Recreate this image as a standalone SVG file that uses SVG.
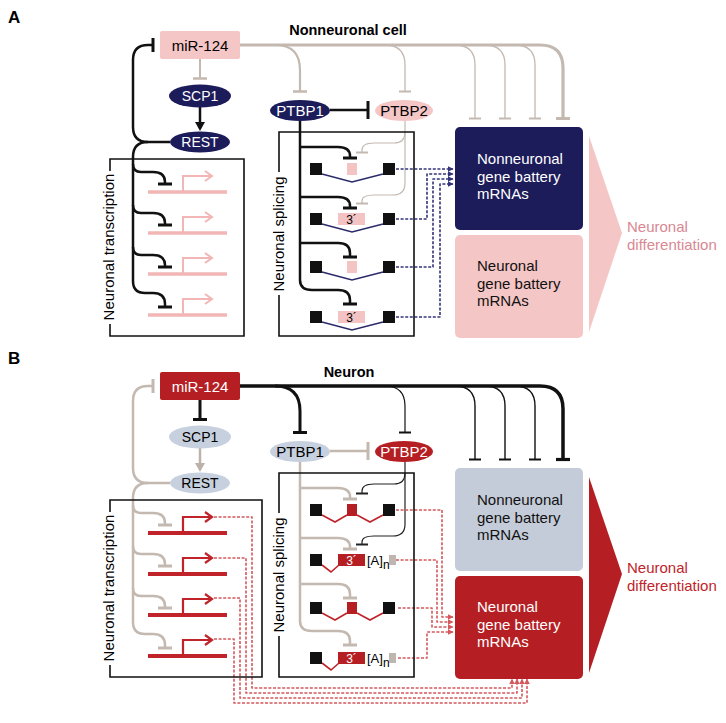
<svg xmlns="http://www.w3.org/2000/svg" width="726" height="723" viewBox="0 0 726 723">
<defs>
<style>
text{font-family:"Liberation Sans",Arial,Helvetica,sans-serif;}
.f15{font-size:15px}
.f14{font-size:14px}
.mid{text-anchor:middle}
.bold{font-weight:bold}
.ln{fill:none;stroke-linejoin:round}
.box{fill:none;stroke:#111;stroke-width:1.6}
.dashN{fill:none;stroke:#34347a;stroke-width:1.6;stroke-dasharray:3 1.6}
.dashR{fill:none;stroke:#d4585c;stroke-width:1.6;stroke-dasharray:3 1.6}
.exon{fill:#111}
</style>
<marker id="ahN" viewBox="0 0 10 10" refX="9" refY="5" markerWidth="6" markerHeight="6" markerUnits="userSpaceOnUse" orient="auto"><path d="M0,0 L10,5 L0,10 z" fill="#34347a"/></marker>
<marker id="ahR" viewBox="0 0 10 10" refX="9" refY="5" markerWidth="6" markerHeight="6" markerUnits="userSpaceOnUse" orient="auto"><path d="M0,0 L10,5 L0,10 z" fill="#d4585c"/></marker>
</defs>
<rect x="0" y="0" width="726" height="723" fill="#fff"/>

<!-- ================= PANEL A ================= -->
<g id="panelA">
<text x="8" y="23" class="bold" font-size="17">A</text>
<text x="348" y="35" class="bold mid" font-size="14.5">Nonneuronal cell</text>

<g id="connectorsA" class="ln">
  <!-- miR-124 repression (gray) -->
  <path d="M240,45 H540 Q563,45 563,68 V118" stroke="#c4b9b0" stroke-width="3.2"/>
  <path d="M556,118.5 H570" stroke="#c4b9b0" stroke-width="3"/>
  <path d="M275,45 Q300,45 300,70 V91" stroke="#c4b9b0" stroke-width="2.2"/>
  <path d="M293,91.5 H307" stroke="#c4b9b0" stroke-width="2.5"/>
  <path d="M385,45 Q405,45 405,65 V91" stroke="#c4b9b0" stroke-width="1.3"/>
  <path d="M399,91.5 H411" stroke="#c4b9b0" stroke-width="2"/>
  <path d="M455,45 Q475,45 475,65 V118 M485,45 Q505,45 505,65 V118 M515,45 Q535,45 535,65 V118" stroke="#c4b9b0" stroke-width="1.3"/>
  <path d="M469,118.5 H481 M499,118.5 H511 M529,118.5 H541" stroke="#c4b9b0" stroke-width="2"/>
  <!-- miR-124 -| SCP1 -->
  <path d="M200,59 V78" stroke="#c4b9b0" stroke-width="2"/>
  <path d="M193,78.5 H207" stroke="#c4b9b0" stroke-width="2.5"/>
  <!-- SCP1 -> REST -->
  <path d="M200,107 V124" stroke="#111" stroke-width="2.5"/>
  <path d="M195,122 L200,131 L205,122 z" fill="#111"/>
  <!-- REST -| miR-124 -->
  <path d="M170,142 H148 Q133,142 133,127 V60 Q133,45 148,45 H153" stroke="#111" stroke-width="2.5"/>
  <path d="M153,38 V52" stroke="#111" stroke-width="3"/>
  <!-- REST -| neuronal genes -->
  <path d="M148,142 Q133,142 133,157 V281 Q133,293 145,293 H153 Q165,293 165,304 V307" stroke="#111" stroke-width="2.5"/>
  <path d="M133,164 Q133,172 141,172 H153 Q165,172 165,182 V184 M133,205 Q133,213 141,213 H153 Q165,213 165,223 V225 M133,247 Q133,255 141,255 H153 Q165,255 165,265 V267" stroke="#111" stroke-width="2.5"/>
  <path d="M158,184 H172 M158,225 H172 M158,267 H172 M158,307 H172" stroke="#111" stroke-width="3"/>
  <!-- PTBP1 -| PTBP2 -->
  <path d="M330,110 H368" stroke="#111" stroke-width="2.5"/>
  <path d="M368,101 V119" stroke="#111" stroke-width="3"/>
  <!-- PTBP1 -| exons -->
  <path d="M300,121 V280 Q300,290 312,290 H338 Q350,290 350,300 V304" stroke="#111" stroke-width="2.5"/>
  <path d="M300,147 H338 Q350,147 350,156 V158 M300,197 H338 Q350,197 350,206 V208 M300,243 H338 Q350,243 350,253 V257" stroke="#111" stroke-width="2.5"/>
  <path d="M343,158 H357 M343,208 H357 M343,257 H357 M343,304 H357" stroke="#111" stroke-width="3"/>
  <!-- PTBP2 -| exons -->
  <path d="M405,121 V183 Q405,195 393,195 H374 Q362,195 362,201 V203" stroke="#c4b9b0" stroke-width="1.2"/>
  <path d="M405,132 Q405,143 394,143 H374 Q362,143 362,150 V152" stroke="#c4b9b0" stroke-width="1.2"/>
  <path d="M356,152.5 H368 M356,203.5 H368" stroke="#c4b9b0" stroke-width="2"/>
  <!-- splice products -> mRNAs -->
  <path class="dashN" marker-end="url(#ahN)" d="M396,169 H453"/>
  <path class="dashN" marker-end="url(#ahN)" d="M396,219 H427 V174 H453"/>
  <path class="dashN" marker-end="url(#ahN)" d="M396,267 H433 V179 H453"/>
  <path class="dashN" marker-end="url(#ahN)" d="M396,317 H440 V184 H453"/>
</g>

<g id="transcriptionA">
  <path class="box" d="M110,171 V159 H244 V336 H110 V324"/>
  <text class="f15 mid" transform="translate(114,247) rotate(-90)">Neuronal transcription</text>
  <g stroke="#f2b6b6" fill="none">
    <path d="M148,192 H227 M148,233 H227 M148,274 H227 M148,315 H227" stroke-width="3.5"/>
    <path d="M183,192 V176 H211 M183,233 V217 H211 M183,274 V258 H211 M183,315 V299 H211" stroke-width="2"/>
    <path d="M205,171 L212,176 L205,181 M205,212 L212,217 L205,222 M205,253 L212,258 L205,263 M205,294 L212,299 L205,304" stroke-width="2"/>
  </g>
</g>

<g id="splicingA">
  <path class="box" d="M279,172 V132 H414 V336 H279 V295"/>
  <text class="f15 mid" transform="translate(284,234) rotate(-90)">Neuronal splicing</text>
  <g fill="none" stroke="#2a2a6a" stroke-width="1.5">
    <path d="M322,174 L352,182 L383,174 M322,224 L352,232 L383,224 M322,272 L352,280 L383,272 M322,322 L352,330 L383,322"/>
  </g>
  <rect class="exon" x="310" y="163" width="12" height="12"/><rect class="exon" x="383" y="163" width="12" height="12"/>
  <rect x="347" y="163" width="10" height="12" fill="#f4c4c4"/>
  <rect class="exon" x="310" y="213" width="12" height="12"/><rect class="exon" x="383" y="213" width="12" height="12"/>
  <rect x="338" y="213" width="27" height="12" fill="#f4c4c4"/>
  <text x="351.5" y="223.5" class="mid" font-size="12">3´</text>
  <rect class="exon" x="310" y="261" width="12" height="12"/><rect class="exon" x="383" y="261" width="12" height="12"/>
  <rect x="347" y="261" width="10" height="12" fill="#f4c4c4"/>
  <rect class="exon" x="310" y="311" width="12" height="12"/><rect class="exon" x="383" y="311" width="12" height="12"/>
  <rect x="338" y="311" width="27" height="12" fill="#f4c4c4"/>
  <text x="351.5" y="321.5" class="mid" font-size="12">3´</text>
</g>

<g id="miR124A"><rect x="160" y="31" width="80" height="28" rx="2" fill="#f5c6c6"/><text x="200" y="50.5" class="f15 mid">miR-124</text></g>
<g id="SCP1A"><ellipse cx="200" cy="96" rx="31" ry="11.5" fill="#1c1c5a"/><text x="200" y="101" class="f14 mid" fill="#fff">SCP1</text></g>
<g id="RESTA"><ellipse cx="200" cy="142" rx="30" ry="10.5" fill="#1c1c5a"/><text x="200" y="147" class="f14 mid" fill="#fff">REST</text></g>
<g id="PTBP1A"><ellipse cx="300" cy="110.5" rx="30" ry="10.5" fill="#1c1c5a"/><text x="300" y="116" class="f15 mid" fill="#fff">PTBP1</text></g>
<g id="PTBP2A"><ellipse cx="404" cy="110.5" rx="29" ry="10.5" fill="#f5c6c6"/><text x="404" y="116" class="f15 mid">PTBP2</text></g>
<g id="nonneuronalA"><rect x="455" y="127" width="128" height="103" rx="5" fill="#1c1c5a"/>
  <text class="f15" fill="#fff"><tspan x="477" y="164">Nonneuronal</tspan><tspan x="477" y="181.5">gene battery</tspan><tspan x="477" y="199">mRNAs</tspan></text></g>
<g id="neuronalA"><rect x="455" y="235" width="128" height="103" rx="5" fill="#f5c6c6"/>
  <text class="f15" fill="#111"><tspan x="477" y="271">Neuronal</tspan><tspan x="477" y="288.5">gene battery</tspan><tspan x="477" y="306">mRNAs</tspan></text></g>
<g id="differentiationA"><polygon points="589,136 622,233 589,332" fill="#f5c6c6"/>
  <text class="f15" fill="#d98893"><tspan x="627" y="232">Neuronal</tspan><tspan x="627" y="249.5">differentiation</tspan></text></g>
</g>

<!-- ================= PANEL B ================= -->
<text x="8" y="364" class="bold" font-size="17">B</text>
<g id="panelB" transform="translate(0,341)">
<text x="349" y="36" class="bold mid" font-size="14.5">Neuron</text>

<g id="connectorsB" class="ln">
  <path d="M240,45 H540 Q563,45 563,68 V118" stroke="#111" stroke-width="3.5"/>
  <path d="M556,118.5 H570" stroke="#111" stroke-width="3.2"/>
  <path d="M275,45 Q300,45 300,70 V91" stroke="#111" stroke-width="3"/>
  <path d="M293,91.5 H307" stroke="#111" stroke-width="3"/>
  <path d="M385,45 Q405,45 405,65 V91" stroke="#111" stroke-width="1.2"/>
  <path d="M399,91.5 H411" stroke="#111" stroke-width="2"/>
  <path d="M455,45 Q475,45 475,65 V118 M485,45 Q505,45 505,65 V118 M515,45 Q535,45 535,65 V118" stroke="#111" stroke-width="1.4"/>
  <path d="M469,118.5 H481 M499,118.5 H511 M529,118.5 H541" stroke="#111" stroke-width="2"/>
  <path d="M200,59 V78" stroke="#111" stroke-width="3"/>
  <path d="M193,78.5 H207" stroke="#111" stroke-width="3"/>
  <path d="M200,107 V124" stroke="#bdb2aa" stroke-width="2.5"/>
  <path d="M195,122 L200,131 L205,122 z" fill="#bdb2aa"/>
  <path d="M170,142 H148 Q133,142 133,127 V60 Q133,45 148,45 H153" stroke="#c4b9b0" stroke-width="2.5"/>
  <path d="M153,38 V52" stroke="#c4b9b0" stroke-width="3"/>
  <path d="M148,142 Q133,142 133,157 V281 Q133,293 145,293 H153 Q165,293 165,304 V307" stroke="#c4b9b0" stroke-width="2.5"/>
  <path d="M133,164 Q133,172 141,172 H153 Q165,172 165,182 V184 M133,205 Q133,213 141,213 H153 Q165,213 165,223 V225 M133,247 Q133,255 141,255 H153 Q165,255 165,265 V267" stroke="#c4b9b0" stroke-width="2.5"/>
  <path d="M158,184 H172 M158,225 H172 M158,267 H172 M158,307 H172" stroke="#c4b9b0" stroke-width="3"/>
  <path d="M330,110 H368" stroke="#c4b9b0" stroke-width="2.5"/>
  <path d="M368,101 V119" stroke="#c4b9b0" stroke-width="3"/>
  <path d="M300,121 V280 Q300,290 312,290 H338 Q350,290 350,300 V304" stroke="#c4b9b0" stroke-width="2.5"/>
  <path d="M300,147 H338 Q350,147 350,156 V158 M300,197 H338 Q350,197 350,206 V208 M300,243 H338 Q350,243 350,253 V257" stroke="#c4b9b0" stroke-width="2.5"/>
  <path d="M343,158 H357 M343,208 H357 M343,257 H357 M343,304 H357" stroke="#c4b9b0" stroke-width="3"/>
  <path d="M405,121 V183 Q405,195 393,195 H374 Q362,195 362,201 V203" stroke="#222" stroke-width="1.2"/>
  <path d="M405,132 Q405,143 394,143 H374 Q362,143 362,150 V152" stroke="#222" stroke-width="1.2"/>
  <path d="M356,152.5 H368 M356,203.5 H368" stroke="#222" stroke-width="2"/>
  <path class="dashR" marker-end="url(#ahR)" d="M396,169 H442 V276 H453"/>
  <path class="dashR" marker-end="url(#ahR)" d="M396,219 H437 V281 H453"/>
  <path class="dashR" marker-end="url(#ahR)" d="M398,267 H432 V286 H453"/>
  <path class="dashR" marker-end="url(#ahR)" d="M398,317 H427 V291 H453"/>
  <path class="dashR" marker-end="url(#ahR)" d="M214,176 H252 V347 H512 V338"/>
  <path class="dashR" marker-end="url(#ahR)" d="M214,217 H246 V352 H517 V338"/>
  <path class="dashR" marker-end="url(#ahR)" d="M214,257 H240 V357 H522 V338"/>
  <path class="dashR" marker-end="url(#ahR)" d="M214,298 H234 V362 H527 V338"/>
</g>

<g id="transcriptionB">
  <path class="box" d="M110,171 V159 H262 V336 H110 V324"/>
  <text class="f15 mid" transform="translate(114,247) rotate(-90)">Neuronal transcription</text>
  <g stroke="#c0242a" fill="none">
    <path d="M148,192 H227 M148,233 H227 M148,274 H227 M148,315 H227" stroke-width="4"/>
    <path d="M183,192 V176 H211 M183,233 V217 H211 M183,274 V258 H211 M183,315 V299 H211" stroke-width="2.2"/>
    <path d="M205,171 L212,176 L205,181 M205,212 L212,217 L205,222 M205,253 L212,258 L205,263 M205,294 L212,299 L205,304" stroke-width="2.2"/>
  </g>
</g>

<g id="splicingB">
  <path class="box" d="M279,172 V132 H414 V336 H279 V295"/>
  <text class="f15 mid" transform="translate(284,234) rotate(-90)">Neuronal splicing</text>
  <g fill="none" stroke="#c0242a" stroke-width="1.6">
    <path d="M322,174 L335,181 L347,174 M357,174 L370,181 L383,174"/>
    <path d="M322,224 L331,231 L339,224"/>
    <path d="M322,272 L335,279 L347,272 M357,272 L370,279 L383,272"/>
    <path d="M322,322 L331,329 L339,322"/>
  </g>
  <rect class="exon" x="310" y="163" width="12" height="12"/><rect class="exon" x="383" y="163" width="12" height="12"/>
  <rect x="347" y="163" width="10" height="12" fill="#b51f24"/>
  <rect class="exon" x="310" y="213" width="12" height="12"/>
  <rect x="338" y="213" width="27" height="12" fill="#b51f24"/>
  <text x="351.5" y="223.5" class="mid" font-size="12" fill="#fff">3´</text>
  <text x="367" y="223.5" font-size="13">[A]<tspan dy="4" font-size="12">n</tspan></text>
  <rect x="389" y="214" width="7" height="10" fill="#bfb7af"/>
  <rect class="exon" x="310" y="261" width="12" height="12"/><rect class="exon" x="383" y="261" width="12" height="12"/>
  <rect x="347" y="261" width="10" height="12" fill="#b51f24"/>
  <rect class="exon" x="310" y="311" width="12" height="12"/>
  <rect x="338" y="311" width="27" height="12" fill="#b51f24"/>
  <text x="351.5" y="321.5" class="mid" font-size="12" fill="#fff">3´</text>
  <text x="367" y="321.5" font-size="13">[A]<tspan dy="4" font-size="12">n</tspan></text>
  <rect x="389" y="312" width="7" height="10" fill="#bfb7af"/>
</g>

<g id="miR124B"><rect x="160" y="31" width="80" height="28" rx="2" fill="#b51f24"/><text x="200" y="50.5" class="f15 mid" fill="#fff">miR-124</text></g>
<g id="SCP1B"><ellipse cx="200" cy="96" rx="31" ry="11.5" fill="#c7d0de"/><text x="200" y="101" class="f14 mid">SCP1</text></g>
<g id="RESTB"><ellipse cx="200" cy="142" rx="30" ry="10.5" fill="#c7d0de"/><text x="200" y="147" class="f14 mid">REST</text></g>
<g id="PTBP1B"><ellipse cx="300" cy="110.5" rx="30" ry="10.5" fill="#c7d0de"/><text x="300" y="116" class="f15 mid">PTBP1</text></g>
<g id="PTBP2B"><ellipse cx="404" cy="110.5" rx="29" ry="10.5" fill="#b51f24"/><text x="404" y="116" class="f15 mid" fill="#fff">PTBP2</text></g>
<g id="nonneuronalB"><rect x="455" y="127" width="128" height="103" rx="5" fill="#c5ccd9"/>
  <text class="f15" fill="#111"><tspan x="477" y="164">Nonneuronal</tspan><tspan x="477" y="181.5">gene battery</tspan><tspan x="477" y="199">mRNAs</tspan></text></g>
<g id="neuronalB"><rect x="455" y="235" width="128" height="103" rx="5" fill="#b51f24"/>
  <text class="f15" fill="#fff"><tspan x="477" y="271">Neuronal</tspan><tspan x="477" y="288.5">gene battery</tspan><tspan x="477" y="306">mRNAs</tspan></text></g>
<g id="differentiationB"><polygon points="589,136 622,233 589,332" fill="#b51f24"/>
  <text class="f15" fill="#c0242a"><tspan x="627" y="232">Neuronal</tspan><tspan x="627" y="249.5">differentiation</tspan></text></g>
</g>
</svg>
